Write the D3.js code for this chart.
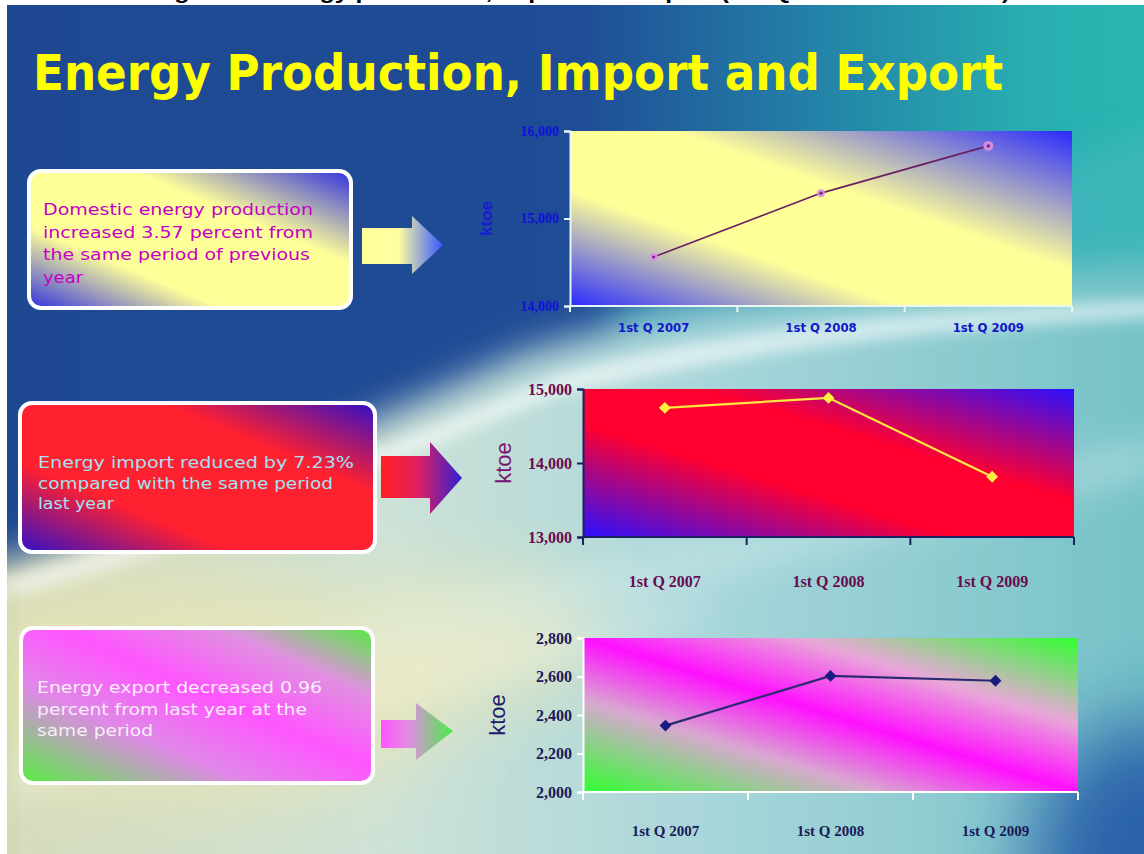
<!DOCTYPE html>
<html><head><meta charset="utf-8">
<script src="https://cdn.jsdelivr.net/npm/d3@7"></script>
<style>html,body{margin:0;padding:0;background:#fff;overflow:hidden}svg{display:block}</style>
</head><body>
<script>
// ---------- data ----------
const categories = ["1st Q 2007", "1st Q 2008", "1st Q 2009"];
const productionValues = [14560, 15290, 15830];
const importValues = [14745, 14880, 13815];
const exportValues = [2345, 2603, 2578];
const productionTicks = [14000, 15000, 16000];
const importTicks = [13000, 14000, 15000];
const exportTicks = [2000, 2200, 2400, 2600, 2800];
const unitLabel = "ktoe";
const slideTitle = "Energy Production, Import and Export";
const captionText = "Figure 3: Energy production, Import and Export (1st Quarter 2007 - 2009)";
const productionNote = ["Domestic energy production", "increased 3.57 percent from", "the same period of previous", "year"];
const importNote = ["Energy import reduced by 7.23%", "compared with the same period", "last year"];
const exportNote = ["Energy export decreased 0.96", "percent from last year at the", "same period"];

const W = 1144, H = 854;
const svg = d3.select("body").append("svg").attr("width", W).attr("height", H);
const defs = svg.append("defs");

function lin(id, x1, y1, x2, y2, stops, units) {
  const g = defs.append("linearGradient").attr("id", id)
    .attr("x1", x1).attr("y1", y1).attr("x2", x2).attr("y2", y2);
  if (units) g.attr("gradientUnits", units);
  stops.forEach(s => g.append("stop").attr("offset", s[0]).attr("stop-color", s[1]).attr("stop-opacity", s[2] == null ? 1 : s[2]));
  return "url(#" + id + ")";
}
function blur(id, sd) {
  defs.append("filter").attr("id", id).attr("x", "-50%").attr("y", "-50%").attr("width", "200%").attr("height", "200%")
    .append("feGaussianBlur").attr("stdDeviation", sd);
  return "url(#" + id + ")";
}

// ---------- slide background ----------
const slide = svg.append("g");
slide.append("rect").attr("x", 7).attr("y", 5).attr("width", W - 7).attr("height", H - 5)
  .attr("fill", lin("bgTop", 0, 0, 1, 0, [[0, "#1e4892"], [0.5, "#1f4c96"], [0.72, "#2384a8"], [0.9, "#29aeb0"], [1, "#2ab6b2"]]));
slide.append("clipPath").attr("id", "slideClip").append("rect").attr("x", 7).attr("y", 5).attr("width", W - 7).attr("height", H - 5);
const bgc = slide.append("g").attr("clip-path", "url(#slideClip)");
const b1 = blur("b1", 18), b2 = blur("b2", 8), b3 = blur("b3", 40);
// teal glow right middle
bgc.append("path").attr("d", "M620,300 L1200,120 L1200,330 L620,420 Z")
  .attr("fill", "#4cb8c0").attr("opacity", 0.6).attr("filter", b1);
// pale lower area (curved boundary)
bgc.append("path").attr("d", "M-40,575 C150,520 380,420 520,355 C700,295 950,280 1200,260 L1200,900 L-40,900 Z")
  .attr("fill", lin("bgLow", 0, 0, 1, 0, [[0, "#d6dab8"], [0.35, "#cde2d8"], [0.6, "#a8d6da"], [1, "#70c0c6"]]))
  .attr("filter", b1);
// yellowish left zone
bgc.append("ellipse").attr("cx", 200).attr("cy", 690).attr("rx", 260).attr("ry", 110)
  .attr("fill", "#eee6b0").attr("opacity", 0.7).attr("filter", b3);
bgc.append("ellipse").attr("cx", 480).attr("cy", 640).attr("rx", 120).attr("ry", 60)
  .attr("fill", "#f2eab8").attr("opacity", 0.7).attr("filter", b3);
// bright swoosh bands
bgc.append("path").attr("d", "M-20,585 C200,530 400,440 560,375 C760,322 950,310 1160,300 L1160,316 C950,328 760,345 560,394 C400,455 200,548 -20,604 Z")
  .attr("fill", "#ffffff").attr("opacity", 0.65).attr("filter", b2);
bgc.append("path").attr("d", "M300,640 L1160,440 L1160,470 L300,670 Z")
  .attr("fill", "#e0f2f2").attr("opacity", 0.45).attr("filter", b1);
bgc.append("path").attr("d", "M-20,770 L700,600 L700,620 L-20,800 Z")
  .attr("fill", "#ffffff").attr("opacity", 0.35).attr("filter", b1);
// dark blue bottom-right corner
bgc.append("ellipse").attr("cx", 1150).attr("cy", 860).attr("rx", 120).attr("ry", 140)
  .attr("fill", "#2358a8").attr("opacity", 0.9).attr("filter", b3);
bgc.append("rect").attr("x", 0).attr("y", 580).attr("width", 14).attr("height", 300)
  .attr("fill", "#c8d8a8").attr("opacity", 0.6).attr("filter", b2);

// cut-off caption at the very top (clipped in the reference as well)
svg.append("text").attr("x", 152).attr("y", -1).attr("textLength", 858).attr("lengthAdjust", "spacingAndGlyphs")
  .attr("font-family", "Liberation Sans, Arial, sans-serif").attr("font-weight", "bold").attr("font-size", 20)
  .attr("fill", "#000").text(captionText);

// slide title
svg.append("text").attr("x", 33).attr("y", 90).attr("textLength", 970).attr("lengthAdjust", "spacingAndGlyphs")
  .attr("font-family", "DejaVu Sans, Verdana, sans-serif").attr("font-weight", "bold").attr("font-size", 50)
  .attr("fill", "#ffff00").text(slideTitle);

// ---------- note boxes and arrows ----------
function noteBox(o) {
  const g = svg.append("g");
  g.append("rect").attr("x", o.x).attr("y", o.y).attr("width", o.w).attr("height", o.h).attr("rx", 12)
    .attr("fill", lin(o.id, 0, 1, 1, 0, o.stops)).attr("stroke", "#ffffff").attr("stroke-width", 4);
  o.lines.forEach((t, i) => {
    const tx = g.append("text").attr("x", o.tx).attr("y", o.ty + i * o.lh)
      .attr("font-family", "DejaVu Sans, Verdana, sans-serif").attr("font-size", 16.5)
      .attr("fill", o.color).text(t);
    if (o.tl[i]) tx.attr("textLength", o.tl[i]).attr("lengthAdjust", "spacingAndGlyphs");
  });
  const a = o.arrow;
  g.append("path").attr("d",
    `M${a.x0},${a.s0} L${a.xh},${a.s0} L${a.xh},${a.h0} L${a.xt},${a.yt} L${a.xh},${a.h1} L${a.xh},${a.s1} L${a.x0},${a.s1} Z`)
    .attr("fill", lin(o.id + "A", 0, 0, 1, 0, o.astops));
}
noteBox({id: "nb1", x: 29, y: 171, w: 322, h: 137, tx: 43, ty: 215, lh: 22.5, color: "#c400c4",
  lines: productionNote, tl: [270, 270, 267, 40],
  stops: [[0, "#3030e0"], [0.3, "#ffff99"], [0.66, "#ffff99"], [1, "#3030e0"]],
  arrow: {x0: 362, xh: 412, xt: 443, yt: 245, s0: 228, s1: 264, h0: 216, h1: 274},
  astops: [[0, "#ffff99"], [0.45, "#ffffa0"], [1, "#3355ff"]]});
noteBox({id: "nb2", x: 20, y: 403, w: 355, h: 149, tx: 38, ty: 468, lh: 20.5, color: "#a4e2f4",
  lines: importNote, tl: [316, 295, 76],
  stops: [[0, "#3010c8"], [0.3, "#ff2030"], [0.7, "#ff2030"], [1, "#3010c8"]],
  arrow: {x0: 381, xh: 430, xt: 462, yt: 478, s0: 456, s1: 498, h0: 442, h1: 514},
  astops: [[0, "#ff2020"], [0.45, "#e02060"], [1, "#3020d0"]]});
noteBox({id: "nb3", x: 21, y: 628, w: 352, h: 155, tx: 37, ty: 693, lh: 21.5, color: "#f8eef8",
  lines: exportNote, tl: [285, 270, 116],
  stops: [[0, "#55ee40"], [0.32, "#e088e8"], [0.55, "#ff55ff"], [0.78, "#e090e0"], [1, "#55ee40"]],
  arrow: {x0: 381, xh: 416, xt: 453, yt: 731, s0: 720, s1: 748, h0: 703, h1: 760},
  astops: [[0, "#ff55ff"], [0.4, "#e090e0"], [1, "#44ee44"]]});

// ---------- charts ----------
function lineChart(o) {
  const g = svg.append("g");
  const x = d3.scaleBand().domain(categories).range([o.x0, o.x1]).paddingInner(0).paddingOuter(0);
  const y = d3.scaleLinear().domain(d3.extent(o.ticks)).range([o.y1, o.y0]);
  g.append("rect").attr("x", o.x0).attr("y", o.y0).attr("width", o.x1 - o.x0).attr("height", o.y1 - o.y0)
    .attr("fill", lin(o.id, 0, 1, 1, 0, o.stops));
  // y axis
  const ya = g.append("g").attr("transform", `translate(${o.x0},0)`)
    .call(d3.axisLeft(y).tickValues(o.ticks).tickSize(6).tickPadding(5).tickFormat(d3.format(",")));
  ya.select(".domain").attr("stroke", o.axisColor).attr("stroke-width", 2);
  ya.selectAll(".tick line").attr("stroke", o.axisColor).attr("stroke-width", 2);
  ya.selectAll(".tick text").attr("fill", o.tickColor).attr("font-family", o.tickFont)
    .attr("font-weight", "bold").attr("font-size", o.tickSize);
  // x axis with ticks at band boundaries
  const xa = g.append("g").attr("transform", `translate(0,${o.y1})`);
  xa.append("line").attr("x1", o.x0).attr("x2", o.x1).attr("stroke", o.axisColor).attr("stroke-width", 2);
  const edges = categories.map(c => x(c)).concat([x(categories[categories.length - 1]) + x.bandwidth()]);
  xa.selectAll("line.tk").data(edges).join("line").attr("class", "tk")
    .attr("x1", d => d).attr("x2", d => d).attr("y1", 0).attr("y2", o.xTick)
    .attr("stroke", o.axisColor).attr("stroke-width", 2);
  xa.selectAll("text").data(categories).join("text")
    .attr("x", d => x(d) + x.bandwidth() / 2).attr("y", o.labelDy).attr("text-anchor", "middle")
    .attr("fill", o.catColor).attr("font-family", o.catFont).attr("font-weight", "bold").attr("font-size", o.catSize)
    .text(d => d);
  // unit label
  g.append("text").attr("transform", `translate(${o.unitX},${(o.y0 + o.y1) / 2}) rotate(-90)`)
    .attr("text-anchor", "middle").attr("fill", o.unitColor).attr("font-weight", o.unitWeight || "normal")
    .attr("font-family", "Liberation Sans, Arial, sans-serif").attr("font-size", o.unitSize).text(unitLabel);
  // line + markers
  const pts = o.values.map((v, i) => [x(categories[i]) + x.bandwidth() / 2, y(v)]);
  g.append("path").attr("d", d3.line()(pts)).attr("fill", "none").attr("stroke", o.lineColor).attr("stroke-width", o.lineWidth);
  if (o.marker === "circle") {
    g.selectAll("circle.h").data(pts).join("circle").attr("class", "h").attr("cx", d => d[0]).attr("cy", d => d[1])
      .attr("r", (d, i) => i === pts.length - 1 ? 5 : 4).attr("fill", "#d890e0").attr("opacity", 0.9);
    g.selectAll("circle.c").data(pts).join("circle").attr("class", "c").attr("cx", d => d[0]).attr("cy", d => d[1])
      .attr("r", 1.6).attr("fill", "#802080");
  } else {
    const sym = d3.symbol().type(d3.symbolDiamond2).size(o.markerSize);
    g.selectAll("path.m").data(pts).join("path").attr("class", "m")
      .attr("transform", d => `translate(${d[0]},${d[1]})`).attr("d", sym).attr("fill", o.markerColor);
  }
}

lineChart({id: "c1", x0: 570, x1: 1072, y0: 131, y1: 306, ticks: productionTicks, values: productionValues,
  stops: [[0, "#2a2aff"], [0.33, "#ffff99"], [0.6, "#ffff99"], [1, "#2a2aff"]],
  axisColor: "#e8f8f0", tickColor: "#1010d8", tickFont: "Liberation Serif, Times New Roman, serif", tickSize: 14,
  xTick: 6, labelDy: 26,
  catColor: "#1018c8", catFont: "DejaVu Sans Condensed, DejaVu Sans, sans-serif", catSize: 13,
  unitX: 492, unitColor: "#1a1ad0", unitSize: 17, unitWeight: "bold", lineColor: "#6a2060", lineWidth: 1.6, marker: "circle"});

lineChart({id: "c2", x0: 583, x1: 1074, y0: 389, y1: 537, ticks: importTicks, values: importValues,
  stops: [[0, "#2a10ff"], [0.38, "#ff0030"], [0.62, "#ff0030"], [1, "#2a10ff"]],
  axisColor: "#1a2060", tickColor: "#6a0a50", tickFont: "Liberation Serif, Times New Roman, serif", tickSize: 16,
  xTick: 8, labelDy: 50,
  catColor: "#6a0a50", catFont: "Liberation Serif, Times New Roman, serif", catSize: 16,
  unitX: 511, unitColor: "#7a1070", unitSize: 22, lineColor: "#ffe840", lineWidth: 2.2, marker: "diamond",
  markerColor: "#ffef40", markerSize: 90});

lineChart({id: "c3", x0: 583, x1: 1078, y0: 638, y1: 792, ticks: exportTicks, values: exportValues,
  stops: [[0, "#30ff30"], [0.3, "#d8a8d0"], [0.5, "#ff10ff"], [0.72, "#e8a8d8"], [1, "#30ff30"]],
  axisColor: "#ffffff", tickColor: "#1a1a5a", tickFont: "Liberation Serif, Times New Roman, serif", tickSize: 16,
  xTick: 8, labelDy: 44,
  catColor: "#1a1a5a", catFont: "Liberation Serif, Times New Roman, serif", catSize: 15,
  unitX: 505, unitColor: "#1a1a6a", unitSize: 22, lineColor: "#2a2a70", lineWidth: 2.2, marker: "diamond",
  markerColor: "#1a1a80", markerSize: 90});
</script>
</body></html>
